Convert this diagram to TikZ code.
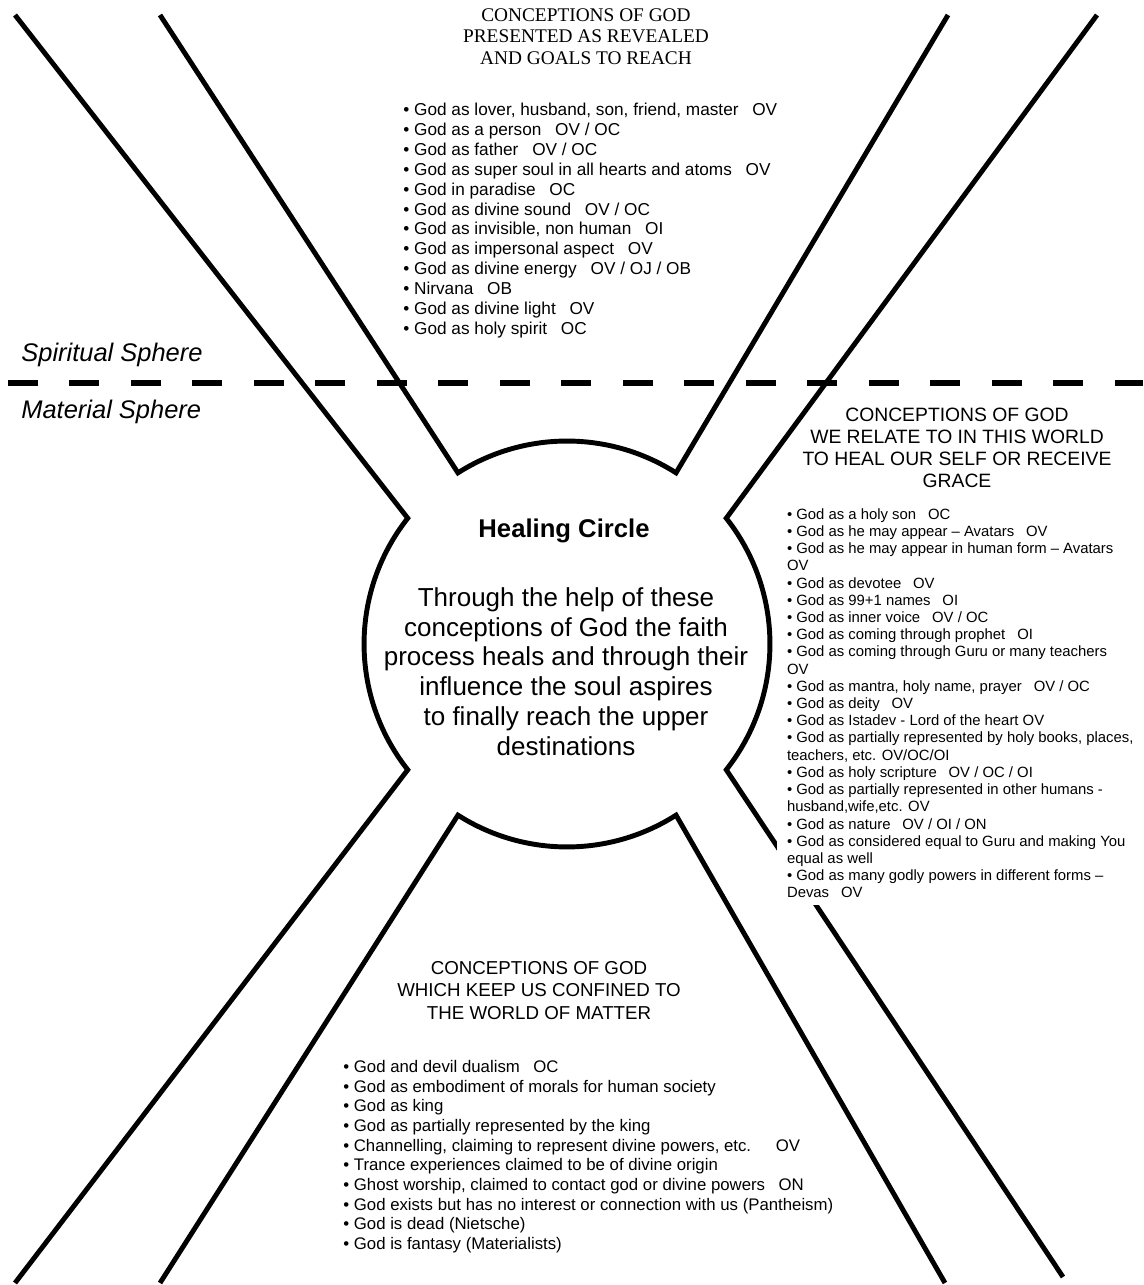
\documentclass[tikz,border=0pt]{standalone}
\usepackage{fontspec}
\setmainfont{Liberation Sans}
\newfontfamily\timesfont{Liberation Serif}
\usetikzlibrary{calc}
\newcommand{\tagsep}{\hspace{0.8em}}

\begin{document}
\begin{tikzpicture}[x=0.02cm, y=0.02cm,
    border line/.style={line width=2.8pt, line join=miter},
    sphere line/.style={line width=3.2pt, dash pattern=on 17pt off 18pt},
    heading/.style={align=center, inner sep=0pt},
    item list/.style={align=left, inner sep=0pt},
    every node/.style={color=black},
    ]

\useasboundingbox (0,0) rectangle (1143,1285);

%% circle centre and notches
\coordinate (c) at (567,641);
\coordinate (n1) at ($(c)+(122.5:4.06cm)$); \coordinate (n2) at ($(c)+(57.5:4.06cm)$);
\coordinate (n3) at ($(c)+(38.3:4.06cm)$);  \coordinate (n4) at ($(c)+(-38.3:4.06cm)$);
\coordinate (n5) at ($(c)+(-57.5:4.06cm)$); \coordinate (n6) at ($(c)+(-122.5:4.06cm)$);
\coordinate (n7) at ($(c)+(218.3:4.06cm)$); \coordinate (n8) at ($(c)+(141.7:4.06cm)$);

%% outer ends of the arms
\coordinate (tlout) at (15,1270);  \coordinate (tlin) at (160,1270);
\coordinate (trin) at (948,1270);  \coordinate (trout) at (1097,1270);
\coordinate (blout) at (15,2);     \coordinate (blin) at (160,2);
\coordinate (brin) at (945,2);     \coordinate (brout) at (1063,8);
\coordinate (dl) at (8,902);       \coordinate (dr) at (1143,902);

%% draw arms
\draw[border line] (tlin) -- (n1) arc[start angle=122.5, end angle=57.5, radius=4.06cm] -- (trin);
\draw[border line] (trout) -- (n3) arc[start angle=38.3, end angle=-38.3, radius=4.06cm] -- (brout);
\draw[border line] (brin) -- (n5) arc[start angle=-57.5, end angle=-122.5, radius=4.06cm] -- (blin);
\draw[border line] (blout) -- (n7) arc[start angle=218.3, end angle=141.7, radius=4.06cm] -- (tlout);

%% sphere border
\draw[sphere line] (dl) -- (dr);
\node[anchor=base west, inner sep=0pt, font=\itshape\fontsize{14.5}{17}\selectfont] (spirit) at (21,923) {Spiritual Sphere};
\node[anchor=base west, inner sep=0pt, font=\itshape\fontsize{14.5}{17}\selectfont] (matter) at (21,866) {Material Sphere};

%% top arm
\node[heading, anchor=north, font=\timesfont\fontsize{11}{12.3}\selectfont] (revealhead) at (586,1277)
  {CONCEPTIONS OF GOD\\PRESENTED AS REVEALED\\AND GOALS TO REACH};
\node[item list, anchor=north west, font=\fontsize{9.8}{11.3}\selectfont] (reveallist) at (403,1182)
  {• God as lover, husband, son, friend, master\tagsep OV\\
   • God as a person\tagsep OV / OC\\
   • God as father\tagsep OV / OC\\
   • God as super soul in all hearts and atoms\tagsep OV\\
   • God in paradise\tagsep OC\\
   • God as divine sound\tagsep OV / OC\\
   • God as invisible, non human\tagsep OI\\
   • God as impersonal aspect\tagsep OV\\
   • God as divine energy\tagsep OV / OJ / OB\\
   • Nirvana\tagsep OB\\
   • God as divine light\tagsep OV\\
   • God as holy spirit\tagsep OC};

%% right arm
\node[heading, anchor=north, font=\fontsize{11}{12.5}\selectfont] (relatehead) at (957,877)
  {CONCEPTIONS OF GOD\\WE RELATE TO IN THIS WORLD\\TO HEAL OUR SELF OR RECEIVE\\GRACE};
\node[item list, fill=white, inner xsep=5.5pt, inner ysep=4pt, anchor=north west, font=\fontsize{8.46}{9.8}\selectfont] (relatelist) at (777,784)
  {• God as a holy son\tagsep OC\\
   • God as he may appear – Avatars\tagsep OV\\
   • God as he may appear in human form – Avatars\\
   OV\\
   • God as devotee\tagsep OV\\
   • God as 99+1 names\tagsep OI\\
   • God as inner voice\tagsep OV / OC\\
   • God as coming through prophet\tagsep OI\\
   • God as coming through Guru or many teachers\\
   OV\\
   • God as mantra, holy name, prayer\tagsep OV / OC\\
   • God as deity\tagsep OV\\
   • God as Istadev - Lord of the heart OV\\
   • God as partially represented by holy books, places,\\
   teachers, etc. OV/OC/OI\\
   • God as holy scripture\tagsep OV / OC / OI\\
   • God as partially represented in other humans -\\
   husband,wife,etc. OV\\
   • God as nature\tagsep OV / OI / ON\\
   • God as considered equal to Guru and making You\\
   equal as well\\
   • God as many godly powers in different forms –\\
   Devas\tagsep OV};

%% bottom arm
\node[heading, anchor=north, font=\fontsize{10.65}{12.8}\selectfont] (confinehead) at (539,324)
  {CONCEPTIONS OF GOD\\WHICH KEEP US CONFINED TO\\THE WORLD OF MATTER};
\node[item list, anchor=north west, font=\fontsize{9.55}{11.2}\selectfont] (confinelist) at (343,225)
  {• God and devil dualism\tagsep OC\\
   • God as embodiment of morals for human society\\
   • God as king\\
   • God as partially represented by the king\\
   • Channelling, claiming to represent divine powers, etc.\hspace{1.1em} OV\\
   • Trance experiences claimed to be of divine origin\\
   • Ghost worship, claimed to contact god or divine powers\tagsep ON\\
   • God exists but has no interest or connection with us (Pantheism)\\
   • God is dead (Nietsche)\\
   • God is fantasy (Materialists)};

%% healing circle
\node[anchor=base, inner sep=0pt, font=\bfseries\fontsize{14.6}{17}\selectfont] (healtitle) at (564,747) {Healing Circle};
\node[heading, anchor=north, font=\fontsize{14.8}{17}\selectfont] (healtext) at (566,698)
  {Through the help of these\\conceptions of God the faith\\process heals and through their\\influence the soul aspires\\to finally reach the upper\\destinations};

\end{tikzpicture}
\end{document}
